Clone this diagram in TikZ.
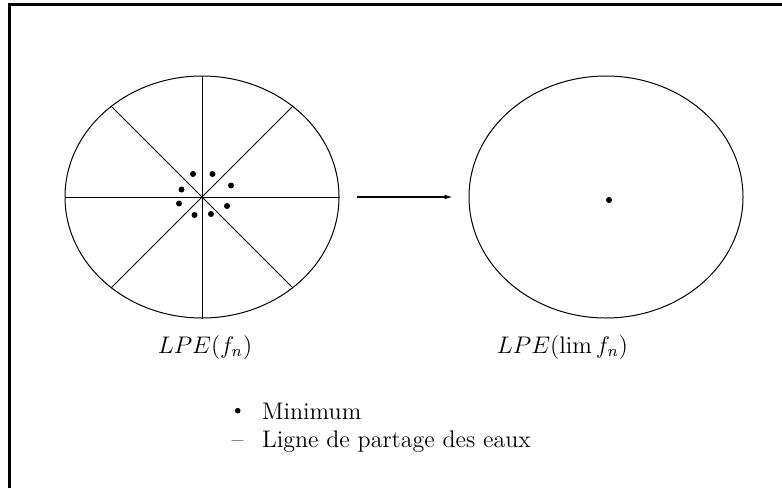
\documentclass[tikz,border=0pt]{standalone}
\usepackage{amsmath}
\usetikzlibrary{arrows.meta,shapes.geometric}

\begin{document}
\begin{tikzpicture}[
  x=0.5pt,
  y=-0.5pt,
  every node/.style={font=\large},
  frame/.style={line width=1.5pt},
  basin/.style={ellipse, draw, line width=0.5pt, inner sep=0pt,
                minimum width=137pt, minimum height=121pt},
  divide/.style={line width=0.5pt},
  mindot/.style={circle, fill, inner sep=0pt, minimum size=3pt},
  flow/.style={line width=0.6pt, -{Latex[length=4pt, width=2.4pt]},
               shorten <=8.5pt, shorten >=8pt}
]
  \useasboundingbox (0,0) rectangle (782,488);

  % ---- frame (left and top only) ----
  \draw[frame] (9.5,488) -- (9.5,4.5) -- (782,4.5);

  % ---- the two basins ----
  \node[basin] (lpe) at (202,197) {};
  \node[basin] (lpelim) at (606,197) {};

  % ---- watershed lines of LPE(f_n) ----
  \draw[divide] (lpe.west) -- (lpe.east);
  \draw[divide] (lpe.north) -- (lpe.south);
  \draw[divide] (lpe.135) -- (lpe.315);
  \draw[divide] (lpe.45) -- (lpe.225);

  % ---- minima round the centre ----
  \foreach \dx/\dy in {-9/-23, 10.5/-23, 29/-11.5, -20.5/-7.5,
                       -23/6.5, 25/9, -7.5/18, 9/17}
    \node[mindot] at ([shift={(\dx,\dy)}]lpe.center) {};

  % ---- the limit keeps one minimum ----
  \node[mindot] (limmin) at (609,200) {};

  % ---- passage to the limit ----
  \draw[flow] (lpe.east) -- (lpelim.west);

  % ---- captions ----
  \node[anchor=base] (caplpe) at (205,353) {$LPE(f_n)$};
  \node[anchor=base] (caplim) at (562.5,353) {$LPE(\lim f_n)$};

  % ---- legend ----
  \node[mindot, minimum size=2.8pt] (keydot) at (237.7,410.7) {};
  \node[anchor=base west, inner sep=0pt] (keymin) at (261.7,419) {Minimum};
  \node[anchor=base, inner sep=0pt] (keydash) at (237.5,447.7) {--};
  \node[anchor=base west, inner sep=0pt] (keylpe) at (261.7,447.7)
    {Ligne de partage des eaux};
\end{tikzpicture}
\end{document}
